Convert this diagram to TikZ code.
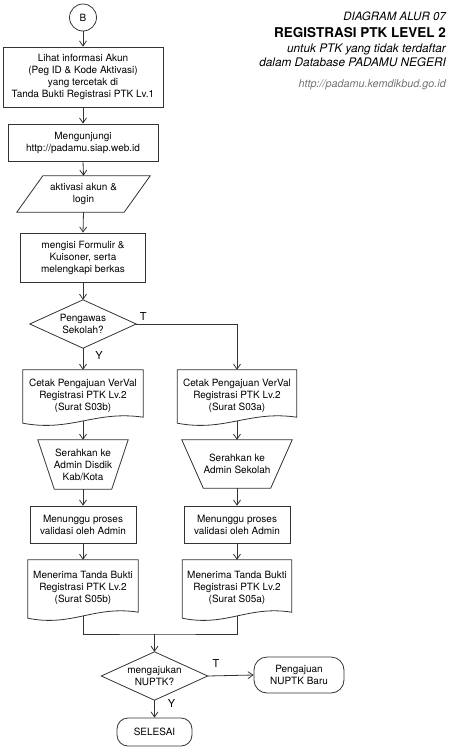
\documentclass[tikz,border=0pt]{standalone}
\usepackage{fontspec}
\setmainfont{TeX Gyre Heros}
\usetikzlibrary{arrows.meta,calc}
\newcommand\flowdoc[1]{%
  \draw[ln] ($(#1.south west)+(0,2)$) -- (#1.north west) -- (#1.north east)
    -- ($(#1.south east)+(0,-4)$)
    .. controls ($(#1.south west)!0.6!(#1.south east)+(0,-11)$)
       and ($(#1.south west)!0.4!(#1.south east)+(0,11)$) .. ($(#1.south west)+(0,2)$) -- cycle;}
\newcommand\flowtrap[2]{%
  \draw[ln] (#1.north west) -- (#1.north east) -- ($(#1.south east)+(-#2,0)$)
    -- ($(#1.south west)+(#2,0)$) -- cycle;}
\begin{document}
\begin{tikzpicture}[x=1pt,y=-1pt,
  ln/.style={draw=black!80, line width=0.8pt},
  base/.style={rectangle, inner sep=0pt, align=center, font=\fontsize{10}{12}\selectfont, text=black},
  procbox/.style={base, ln},
  term/.style={base, ln},
  conn/.style={ln, -{Straight Barb[length=5pt,width=7pt]}},
  lbl/.style={font=\fontsize{11}{12}\selectfont, inner sep=0pt},
  ttl/.style={anchor=base east, inner sep=0pt, text=black},
]
\useasboundingbox (0,0) rectangle (450,747);

% title block
\node[ttl, font=\fontsize{11.5}{13}\selectfont\itshape] (h1) at (446,20.7) {DIAGRAM ALUR 07};
\node[ttl, font=\fontsize{13.5}{15}\selectfont\bfseries] (h2) at (446,37.5) {REGISTRASI PTK LEVEL 2};
\node[ttl, font=\fontsize{11.8}{13}\selectfont\itshape] (h3) at (446,52.5) {untuk PTK yang tidak terdaftar};
\node[ttl, font=\fontsize{11.8}{13}\selectfont\itshape] (h4) at (446,66.5) {dalam Database PADAMU NEGERI};
\node[ttl, font=\fontsize{10.8}{12}\selectfont\itshape, text=black!55] (h5) at (446,87) {http://padamu.kemdikbud.go.id};

% main column
\node[base, ln, circle, minimum size=27pt] (b) at (83,17.5) {B};
\node[procbox, minimum width=160pt, minimum height=60pt] (p1) at (83,77)
  {Lihat informasi Akun\\(Peg ID \& Kode Aktivasi)\\yang tercetak di\\Tanda Bukti Registrasi PTK Lv.1};
\node[procbox, minimum width=150pt, minimum height=37pt] (p2) at (83,142.5)
  {Mengunjungi\\http://padamu.siap.web.id};
\node[base, minimum width=133pt, minimum height=36pt] (io) at (83.5,194) {aktivasi akun \&\\login};
\draw[ln] ($(io.north west)+(26,0)$) -- (io.north east) -- ($(io.south east)+(-26,0)$) -- (io.south west) -- cycle;
\node[procbox, minimum width=125pt, minimum height=49pt] (p3) at (83,257.5)
  {mengisi Formulir \&\\Kuisoner, serta\\melengkapi berkas};
\node[base, minimum width=106pt, minimum height=48pt] (q1) at (83,324) {Pengawas\\Sekolah?};
\draw[ln] (q1.north) -- (q1.east) -- (q1.south) -- (q1.west) -- cycle;

% left column
\node[base, minimum width=120pt, minimum height=51pt] (cL) at (83,395.5)
  {Cetak Pengajuan VerVal\\Registrasi PTK Lv.2\\(Surat S03b)};
\flowdoc{cL}
\node[base, minimum width=90pt, minimum height=49pt] (tL) at (83,464.5)
  {Serahkan ke\\Admin Disdik\\Kab/Kota};
\flowtrap{tL}{16.5}
\node[procbox, minimum width=106pt, minimum height=37pt] (wL) at (83,524.5)
  {Menunggu proses\\validasi oleh Admin};
\node[base, minimum width=110pt, minimum height=56pt] (eL) at (83,588)
  {Menerima Tanda Bukti\\Registrasi PTK Lv.2\\(Surat S05b)};
\flowdoc{eL}

% right column
\node[base, minimum width=119pt, minimum height=51pt] (cR) at (237,395.5)
  {Cetak Pengajuan VerVal\\Registrasi PTK Lv.2\\(Surat S03a)};
\flowdoc{cR}
\node[base, minimum width=110pt, minimum height=48pt] (tR) at (237,464)
  {Serahkan ke\\Admin Sekolah};
\flowtrap{tR}{21.5}
\node[procbox, minimum width=106pt, minimum height=37pt] (wR) at (237,524.5)
  {Menunggu proses\\validasi oleh Admin};
\node[base, minimum width=109pt, minimum height=56pt] (eR) at (237,588)
  {Menerima Tanda Bukti\\Registrasi PTK Lv.2\\(Surat S05a)};
\flowdoc{eR}

% bottom
\coordinate (m) at (154.5,634);
\node[base, minimum width=106pt, minimum height=48pt] (q2) at (154.5,676) {mengajukan\\NUPTK?};
\draw[ln] (q2.north) -- (q2.east) -- (q2.south) -- (q2.west) -- cycle;
\node[term, rounded corners=13pt, minimum width=90pt, minimum height=36pt] (nb) at (299,675)
  {Pengajuan\\NUPTK Baru};
\node[term, rounded corners=11pt, minimum width=75pt, minimum height=28pt] (sel) at (154.5,732) {SELESAI};

% connectors
\draw[conn] (b.south) -- (p1.north);
\draw[conn] (p1.south) -- (p2.north);
\draw[conn] (p2.south) -- (io.north);
\draw[conn] (io.south) -- (p3.north);
\draw[conn] (p3.south) -- (q1.north);
\draw[conn] (q1.south) -- node[lbl, pos=0.36, right=12pt] {Y} (cL.north);
\draw[conn] (q1.east) -| node[lbl, pos=0.035, above=3pt] {T} (cR.north);
\draw[conn] (cL.south) -- (tL.north);
\draw[conn] (tL.south) -- (wL.north);
\draw[conn] (wL.south) -- (eL.north);
\draw[conn] (cR.south) -- (tR.north);
\draw[conn] (tR.south) -- (wR.north);
\draw[conn] (wR.south) -- (eR.north);
\draw[ln] (eL.south) |- (m) -| (eR.south);
\draw[conn] (m) -- (q2.north);
\draw[conn] (q2.east) -- node[lbl, pos=0.18, above=8pt] {T} (nb.west);
\draw[conn] (q2.south) -- node[lbl, pos=0.17, right=13pt] {Y} (sel.north);
\end{tikzpicture}
\end{document}
